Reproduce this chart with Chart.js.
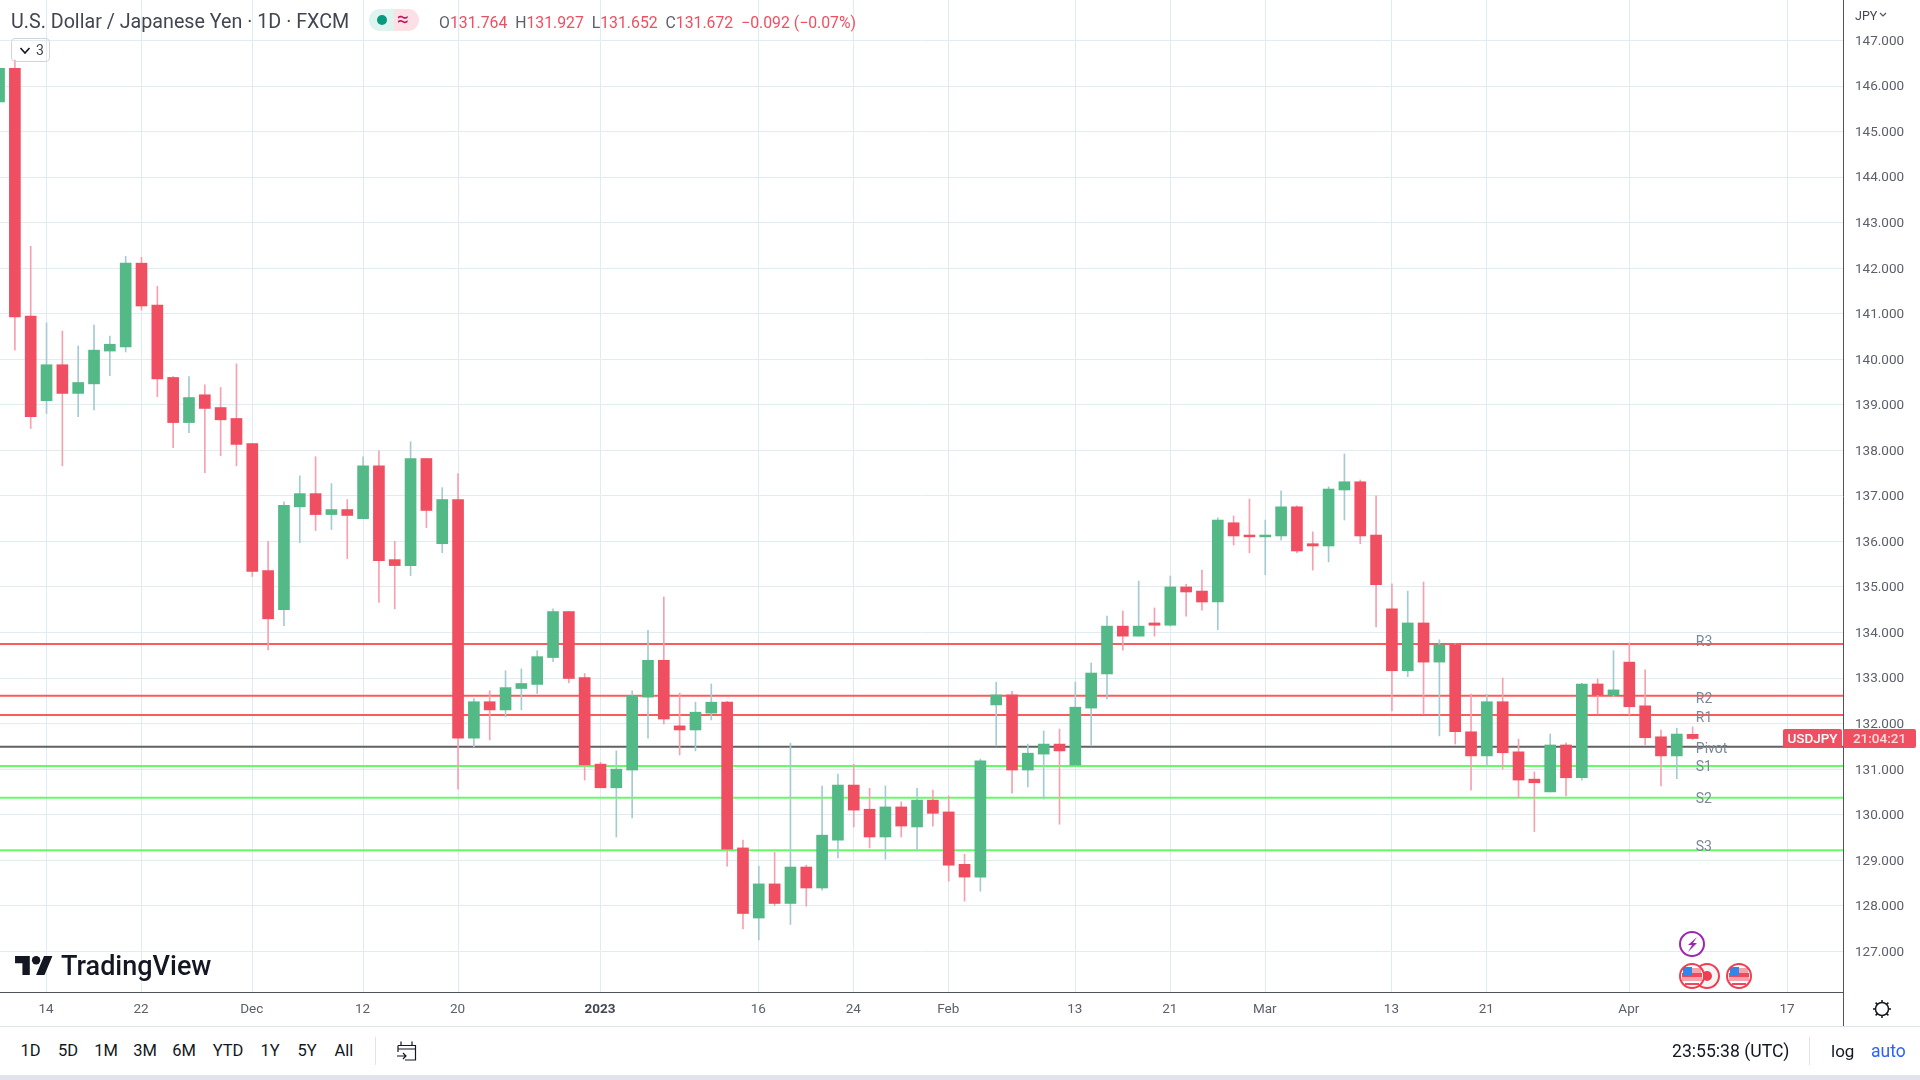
<!DOCTYPE html>
<html>
<head>
<meta charset="utf-8">
<title>USDJPY</title>
<script src="https://cdn.jsdelivr.net/npm/chart.js@4/dist/chart.umd.js"></script>
<style>
  html, body { margin: 0; padding: 0; background: #fff; width: 1920px; height: 1080px; overflow: hidden; font-family: Roboto, sans-serif; color: #131722; }
  canvas { position: absolute; left: 0; top: 0; }
  .t { position: absolute; white-space: nowrap; line-height: 20px; }
  .box { position: absolute; }
  .red { color: #ef4f60; }
  .gr { color: #5d606b; }
</style>
</head>
<body>
<canvas id="usdjpyChart" width="1920" height="1026"></canvas>

<div class="t" style="left:11px;top:12px;font-size:19.7px;color:#434651">U.S. Dollar / Japanese Yen · 1D · FXCM</div>
<div class="box" style="left:369px;top:9px;width:25px;height:22px;background:#dff3ef;border-radius:11px 0 0 11px"></div>
<div class="box" style="left:394px;top:9px;width:25px;height:22px;background:#fce0e6;border-radius:0 11px 11px 0"></div>
<div class="box" style="left:377px;top:15px;width:10px;height:10px;background:#089981;border-radius:50%"></div>
<div class="t" style="left:397px;top:9px;font-size:21px;color:#c2185b">≈</div>
<div class="t gr" style="left:439px;top:13px;font-size:15.8px"><span>O</span><span class="red">131.764</span>&nbsp; <span>H</span><span class="red">131.927</span>&nbsp; <span>L</span><span class="red">131.652</span>&nbsp; <span>C</span><span class="red">131.672</span>&nbsp; <span class="red">−0.092</span>&nbsp;<span class="red">(−0.07%)</span></div>
<div class="box" style="left:11px;top:38px;width:39px;height:24px;border:1px solid #d1d4dc;border-radius:4px;box-sizing:border-box"></div>
<svg class="box" style="left:19px;top:46px" width="12" height="9"><path d="M1.5 2 L6 7 L10.5 2" fill="none" stroke="#131722" stroke-width="1.6"/></svg>
<div class="t" style="left:36px;top:40px;font-size:14px;color:#434651">3</div>

<div class="t" style="left:1855px;top:6px;font-size:12.5px;color:#434651">JPY</div>
<svg class="box" style="left:1879px;top:12px" width="8" height="6"><path d="M1 1 L4 4 L7 1" fill="none" stroke="#50535e" stroke-width="1.2"/></svg>

<div class="box" style="left:1783px;top:729px;width:59px;height:19px;background:#ef4f60;border-radius:2px"></div>
<div class="t" style="left:1783px;top:728px;width:59px;text-align:center;font-size:13.5px;font-weight:500;color:#fff">USDJPY</div>
<div class="box" style="left:1843px;top:729px;width:73px;height:19px;background:#ef4f60;border-radius:2px"></div>
<div class="t" style="left:1843px;top:728px;width:73px;text-align:center;font-size:13.5px;font-weight:500;color:#fdd">21:04:21</div>

<svg class="box" style="left:1670px;top:925px" width="90" height="66">
  <defs>
    <g id="usFlag">
      <circle r="11.5" fill="#fff"/>
      <path d="M-9 -8 H9 V-3 H-9Z M-10 1 H10 V5 H-10Z" fill="#f7a1ac"/>
      <path d="M-10 -3 H10 V1 H-10Z M-7 7 H7 V9 H-7Z" fill="#f0495c"/>
      <path d="M-9 -9 H0 V0 H-9Z" fill="#2f86eb"/>
      <circle r="12" fill="none" stroke="#ef3e4f" stroke-width="2"/>
    </g>
  </defs>
  <circle cx="22" cy="19" r="12" fill="#fff" stroke="#9c27b0" stroke-width="2"/>
  <path d="M27 12 L18 20 H22 L18 27 L27 18 H23Z" fill="#9c27b0"/>
  <g transform="translate(37,51)"><circle r="12" fill="#f5f5f5" stroke="#ef3e4f" stroke-width="2"/><circle r="5" fill="#ef3e4f"/></g>
  <use href="#usFlag" x="22" y="51"/>
  <use href="#usFlag" x="69" y="51"/>
</svg>

<svg class="box" style="left:15px;top:956px" width="38" height="20" viewBox="0 4 36 19"><path d="M14 22H7V11H0V4h14v18zM28 22h-8l7.5-18h8L28 22z" fill="#131722"/><circle cx="20" cy="8" r="4" fill="#131722"/></svg>
<div class="t" style="left:61px;top:953px;font-size:27px;line-height:26px;font-weight:500;color:#131722">TradingView</div>

<div class="box" style="left:1843px;top:992px;width:1px;height:34px;background:#50535e"></div>
<svg class="box" style="left:1871px;top:999px" width="22" height="20" viewBox="0 0 22 20"><circle cx="11" cy="10" r="6.5" fill="none" stroke="#131722" stroke-width="1.5"/><path d="M11 1V3.5M11 16.5V19M2 10H4.5M17.5 10H20M4.6 3.6L6.4 5.4M15.6 14.6L17.4 16.4M17.4 3.6L15.6 5.4M6.4 14.6L4.6 16.4" stroke="#131722" stroke-width="1.5"/></svg>

<div class="box" style="left:0;top:1026px;width:1920px;height:1px;background:#e0e3eb"></div>
<div id="rangeBar"></div>
<div class="box" style="left:375px;top:1037px;width:1px;height:28px;background:#e0e3eb"></div>
<svg class="box" style="left:396px;top:1040px" width="22" height="22" viewBox="0 0 22 22"><path d="M5 1.5V5M16 1.5V5M2 5.5H19.5V20H9M2 5.5V12M2 9H19.5M1 16H10M7 13L10 16L7 19" fill="none" stroke="#131722" stroke-width="1.2"/></svg>
<div class="t" style="left:1672px;top:1041px;font-size:17.6px">23:55:38 (UTC)</div>
<div class="box" style="left:1809px;top:1037px;width:1px;height:28px;background:#e0e3eb"></div>
<div class="t" style="left:1831px;top:1041px;font-size:17px">log</div>
<div class="t" style="left:1871px;top:1041px;font-size:17.5px;color:#2962ff">auto</div>
<div class="box" style="left:0;top:1075px;width:1920px;height:5px;background:#e0e3eb"></div>

<script>
// daily candles, 9 Nov 2022 to 7 Apr 2023
const opens = [145.65,146.39,140.95,139.09,139.88,139.25,139.46,140.18,140.27,142.11,141.19,139.6,138.61,139.22,138.94,138.7,138.15,135.36,134.5,136.76,137.05,136.59,136.7,136.5,137.66,135.6,135.47,137.82,135.95,136.92,131.68,132.48,132.3,132.77,132.86,133.45,134.46,133.01,131.11,130.59,130.98,132.58,133.39,131.95,131.86,132.23,132.47,129.27,127.73,128.48,128.05,128.85,128.39,129.44,130.65,130.12,129.51,130.17,129.73,130.32,130.06,128.91,128.63,132.41,132.63,130.98,131.33,131.55,131.09,132.34,133.09,134.14,133.92,134.21,134.16,135,134.91,134.67,136.41,136.14,136.1,136.12,136.76,135.95,135.9,137.13,137.31,136.14,134.52,133.16,134.21,133.35,133.73,131.82,131.29,132.48,131.38,130.78,130.5,131.53,130.81,132.87,132.63,133.35,132.39,131.71,131.29,131.764];
const highs = [146.39,146.57,142.48,140.8,140.62,140.29,140.75,140.51,142.26,142.24,141.6,139.62,139.62,139.44,139.38,139.9,138.15,136,136.87,137.44,137.86,137.27,136.92,137.86,137.99,136,138.19,137.82,137.18,137.49,132.55,132.72,133.16,133.2,133.6,134.52,134.46,133.1,131.15,131.4,132.72,134.05,134.78,132.67,132.47,132.87,132.49,129.44,128.87,129.18,131.57,128.89,130.63,130.89,131.11,130.58,130.63,130.28,130.58,130.54,130.41,129.13,131.22,132.91,132.71,131.55,131.84,131.88,132.91,133.33,134.36,134.47,135.13,134.54,135.24,135.06,135.37,136.52,136.56,136.93,136.47,137.11,136.78,136.21,137.2,137.92,137.35,137,135.07,134.91,135.11,133.84,133.75,132.65,132.63,133,131.66,130.94,131.77,131.58,132.89,132.98,133.6,133.77,133.18,131.86,131.9,131.927];
const lows = [145.6,140.2,138.48,138.81,137.66,138.74,138.89,139.64,140.16,141.08,139.18,138.06,138.39,137.51,137.88,137.66,135.23,133.62,134.15,135.97,136.24,136.26,135.62,136.5,134.66,134.52,135.25,136.3,135.75,130.56,131.49,131.64,132.15,132.3,132.66,133.36,132.9,130.76,130.59,129.51,129.93,131.68,131.99,131.31,131.4,132.08,128.87,127.49,127.25,128,127.59,127.99,128.34,129.05,129.73,129.27,129.02,129.51,129.2,129.75,128.54,128.1,128.32,131.51,130.47,130.61,130.34,129.79,131.05,131.51,132.54,133.61,133.92,133.92,134.14,134.36,134.49,134.06,135.92,135.75,135.27,136.03,135.75,135.37,135.55,136.47,135.95,134.12,132.28,133.03,132.21,131.73,131.55,130.54,131.07,131,130.36,129.63,130.5,130.41,130.76,132.21,132.59,132.19,131.53,130.63,130.79,131.652];
const closes = [146.39,140.93,138.74,139.88,139.25,139.49,140.2,140.33,142.11,141.17,139.57,138.61,139.16,138.92,138.67,138.13,135.34,134.3,136.79,137.05,136.59,136.7,136.57,137.66,135.58,135.47,137.82,136.68,136.92,131.68,132.48,132.3,132.79,132.88,133.47,134.46,132.99,131.09,130.59,131,132.61,133.39,132.1,131.86,132.25,132.47,129.24,127.83,128.48,128.05,128.85,128.39,129.55,130.65,130.1,129.51,130.17,129.75,130.32,130.03,128.89,128.63,131.18,132.63,130.98,131.35,131.55,131.4,132.36,133.11,134.14,133.92,134.14,134.16,135,134.89,134.67,136.47,136.12,136.1,136.14,136.76,135.79,135.9,137.15,137.31,136.12,135.05,133.16,134.21,133.35,133.73,131.82,131.29,132.48,131.36,130.76,130.7,131.53,130.81,132.87,132.63,132.74,132.37,131.69,131.29,131.77,131.672];

// pivot levels
const levelNames = ['R3','R2','R1','Pivot','S1','S2','S3'];
const levelValues = [133.75,132.61,132.19,131.49,131.07,130.37,129.22];
const levelColors = ['#f85c5c','#f85c5c','#f85c5c','#616161','#66fb66','#66fb66','#66fb66'];
const labelNudge = [-1,4,4,3,2,2,-3];

const priceTicks = [147,146,145,144,143,142,141,140,139,138,137,136,135,134,133,132,131,130,129,128,127];
const timeTickBars = [3,9,16,23,29,38,48,54,60,68,74,80,88,94,103,113];
const timeTickLabels = ['14','22','Dec','12','20','2023','16','24','Feb','13','21','Mar','13','21','Apr','17'];
const rangeButtons = ['1D','5D','1M','3M','6M','YTD','1Y','5Y','All'];
const rangeCenters = [30.6,68,106,145,184,228,270,307,344];

const barMin = 0.06, barMax = 116.5;
const priceMin = 126.106, priceMax = 147.889;

const upColor = '#53b987', downColor = '#ef4f60';
const upWick = '#a3ccd0', downWick = '#f7a1b0';

const isUp = opens.map((o, i) => closes[i] >= o);

const levelLabelPlugin = {
    id: 'levelLabels',
    afterDatasetsDraw(chart) {
        const c = chart.ctx, y = chart.scales.y, x = chart.scales.x;
        c.save();
        c.font = '14px Roboto';
        c.fillStyle = '#7a8797';
        c.textBaseline = 'middle';
        levelNames.forEach((n, i) => {
            c.fillText(n, x.getPixelForValue(107.2), y.getPixelForValue(levelValues[i]) + labelNudge[i]);
        });
        c.restore();
    }
};

const levelSets = levelNames.map((n, i) => ({
    type: 'line',
    label: n,
    data: [{x: barMin, y: levelValues[i]}, {x: barMax, y: levelValues[i]}],
    borderColor: levelColors[i],
    borderWidth: 2,
    pointRadius: 0,
    order: 3
}));

new Chart(document.getElementById('usdjpyChart').getContext('2d'), {
    type: 'bar',
    data: {
        datasets: [
            {
                label: 'body',
                data: opens.map((o, i) => ({x: i, y: [o, closes[i]]})),
                backgroundColor: isUp.map(u => u ? upColor : downColor),
                barThickness: 11,
                grouped: false,
                order: 1
            },
            {
                label: 'wick',
                data: lows.map((l, i) => ({x: i, y: [l, highs[i]]})),
                backgroundColor: isUp.map(u => u ? upWick : downWick),
                barThickness: 1,
                grouped: false,
                order: 2
            },
            ...levelSets
        ]
    },
    options: {
        responsive: false,
        animation: false,
        plugins: { legend: {display: false}, tooltip: {enabled: false} },
        scales: {
            x: {
                type: 'linear',
                offset: false,
                min: barMin,
                max: barMax,
                afterBuildTicks: s => { s.ticks = timeTickBars.map(v => ({value: v})); },
                afterFit: s => { s.height = 34; s.paddingLeft = 0; s.paddingRight = 0; },
                grid: {color: '#e1ecf2', offset: false, drawTicks: false},
                border: {color: '#50535e'},
                ticks: {
                    autoSkip: false,
                    maxRotation: 0,
                    padding: 10,
                    labelOffset: -0.5,
                    color: ctx => ctx.tick.value === 38 ? '#434651' : '#5d606b',
                    font: ctx => ({family: 'Roboto', size: 13.5, weight: ctx.tick && ctx.tick.value === 38 ? 'bold' : 'normal'}),
                    callback: v => timeTickLabels[timeTickBars.indexOf(v)]
                }
            },
            y: {
                position: 'right',
                min: priceMin,
                max: priceMax,
                afterBuildTicks: s => { s.ticks = priceTicks.map(v => ({value: v})); },
                afterFit: s => { s.width = 77; s.paddingTop = 0; s.paddingBottom = 0; },
                grid: {color: '#e1ecf2', drawTicks: false},
                border: {color: '#50535e'},
                ticks: {
                    autoSkip: false,
                    padding: 12,
                    labelOffset: 1,
                    color: '#5d606b',
                    font: {family: 'Roboto', size: 13.5},
                    callback: v => v.toFixed(3)
                }
            }
        }
    },
    plugins: [levelLabelPlugin]
});

const bar = document.getElementById('rangeBar');
rangeButtons.forEach((t, i) => {
    const d = document.createElement('div');
    d.className = 't';
    d.textContent = t;
    d.style.cssText = 'left:' + (rangeCenters[i] - 30) + 'px;width:60px;text-align:center;top:1041px;font-size:16.5px';
    bar.appendChild(d);
});
</script>
</body>
</html>
